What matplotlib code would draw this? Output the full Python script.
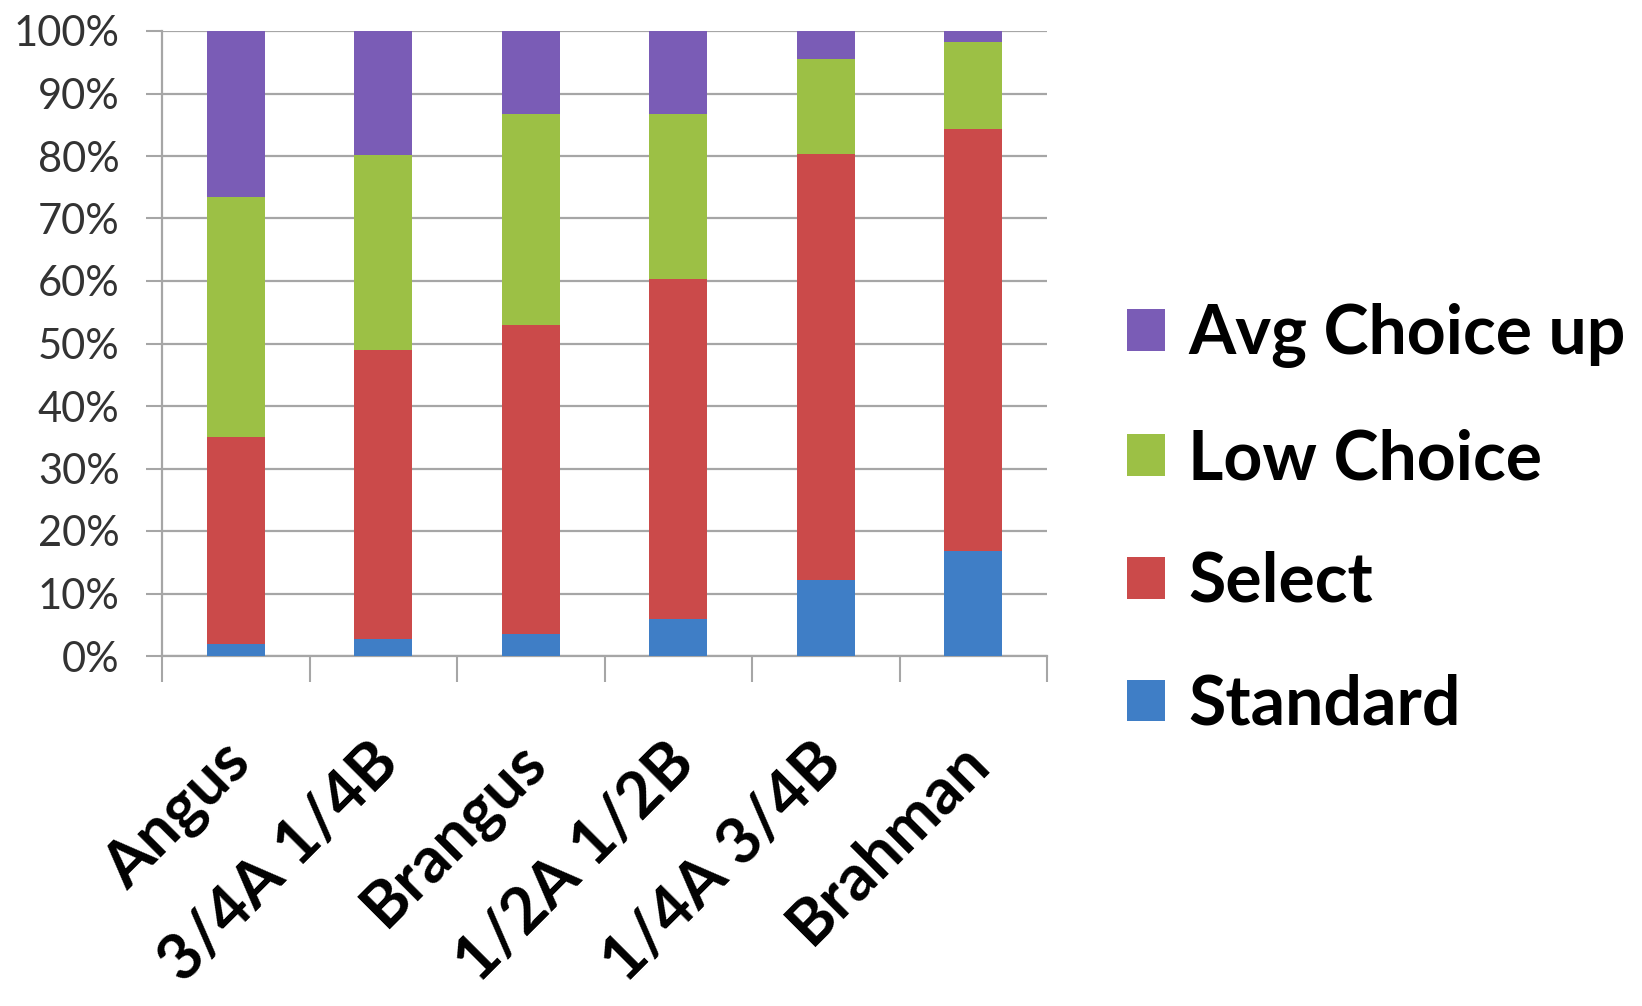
import matplotlib
matplotlib.use('Agg')
import matplotlib.pyplot as plt
import matplotlib.transforms as mtransforms
import numpy as np

# USDA quality grade distribution by breed composition
breeds = ['Angus', '3/4A 1/4B', 'Brangus', '1/2A 1/2B', '1/4A 3/4B', 'Brahman']
standard = [2.0, 2.7, 3.5, 6.0, 12.1, 16.8]
select = [33.0, 46.2, 49.5, 54.3, 68.2, 67.5]
low_choice = [38.5, 31.2, 33.8, 26.5, 15.3, 13.9]
avg_choice_up = [26.5, 19.9, 13.2, 13.2, 4.4, 1.8]

series = ['Standard', 'Select', 'Low Choice', 'Avg Choice up']
colors = ['#3F7EC6', '#CB4A4A', '#9CC045', '#7A5CB6']

plt.rcParams['font.family'] = ['Lato', 'DejaVu Sans']

fig = plt.figure(figsize=(16.42, 10.06), dpi=100)
ax = fig.add_axes([162 / 1642, 1 - 656 / 1006, 885 / 1642, 625 / 1006])

x = np.arange(len(breeds))
bottom = np.zeros(len(breeds))
handles = []
for name, vals, col in zip(series, [standard, select, low_choice, avg_choice_up], colors):
    v = np.array(vals) / 100.0
    h = ax.bar(x, v, width=0.39, bottom=bottom, color=col, label=name, zorder=3)
    handles.append(h)
    bottom += v

grid_col = '#A6A6A6'
ax.set_xlim(-0.5, len(breeds) - 0.5)
ax.set_ylim(0, 1.0)
ax.set_yticks(np.linspace(0, 1, 11))
ax.set_yticklabels([f'{int(round(t * 100))}%' for t in np.linspace(0, 1, 11)],
                   fontsize=30, color='#333333')
ax.yaxis.grid(True, color=grid_col, linewidth=1.6, zorder=0)
ax.tick_params(axis='y', direction='out', length=11.5, width=1.5, color=grid_col, pad=19)

# category labels, with boundary ticks below the axis
ax.set_xticks(x)
ax.set_xticklabels(breeds, rotation=45, ha='right', va='top',
                   fontsize=46, fontweight='bold', color='black')
ax.tick_params(axis='x', which='major', length=0, pad=55)
ax.set_xticks(np.arange(-0.5, len(breeds)), minor=True)
ax.tick_params(axis='x', which='minor', direction='out', length=19, width=1.5, color=grid_col)
shift = mtransforms.ScaledTranslation(26 / 100, 0, fig.dpi_scale_trans)
for lbl in ax.get_xticklabels():
    lbl.set_transform(lbl.get_transform() + shift)

for s in ['top', 'right']:
    ax.spines[s].set_visible(False)
for s in ['left', 'bottom']:
    ax.spines[s].set_color(grid_col)
    ax.spines[s].set_linewidth(1.6)

fig.legend(handles[::-1], series[::-1], loc='center left',
           bbox_to_anchor=(1127 / 1642, 1 - 520 / 1006), frameon=False,
           prop={'family': 'Lato', 'weight': 'bold', 'size': 49},
           handlelength=0.56, handleheight=0.56, handletextpad=0.34,
           labelspacing=0.88, borderpad=0, borderaxespad=0)

fig.savefig('out.png', dpi=100, facecolor='white')
